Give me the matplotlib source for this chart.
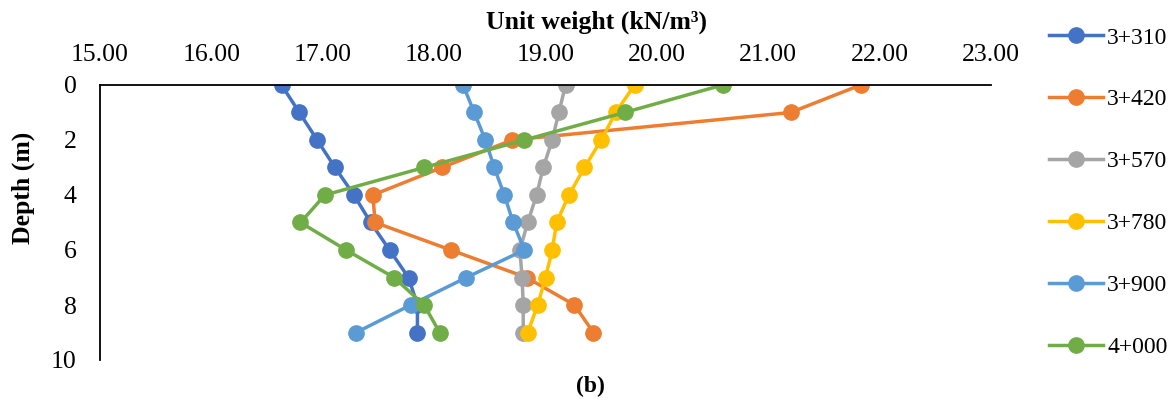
import matplotlib.pyplot as plt

plt.rcParams['font.family'] = ['Liberation Serif', 'DejaVu Serif']

depth = [0, 1, 2, 3, 4, 5, 6, 7, 8, 9]

st_3310 = [16.63, 16.79, 16.95, 17.11, 17.28, 17.43, 17.60, 17.77, 17.85, 17.85]
st_3420 = [21.83, 21.20, 18.70, 18.07, 17.45, 17.47, 18.15, 18.83, 19.26, 19.43]
st_3570 = [19.18, 19.12, 19.06, 18.98, 18.92, 18.84, 18.77, 18.79, 18.80, 18.80]
st_3780 = [19.80, 19.63, 19.50, 19.35, 19.21, 19.10, 19.06, 19.00, 18.93, 18.84]
st_3900 = [18.26, 18.36, 18.46, 18.54, 18.63, 18.71, 18.81, 18.29, 17.79, 17.30]
st_4000 = [20.59, 19.71, 18.81, 17.91, 17.02, 16.80, 17.21, 17.64, 17.91, 18.05]

labels = ['3+310', '3+420', '3+570', '3+780', '3+900', '4+000']
colors = ['#4472C4', '#ED7D31', '#A5A5A5', '#FFC000', '#5B9BD5', '#70AD47']
series = [st_3310, st_3420, st_3570, st_3780, st_3900, st_4000]

W, H = 1176, 408
fig = plt.figure(figsize=(W/100, H/100), dpi=100)
ax = fig.add_axes([100/W, 1-360/H, (991-100)/W, (360-85)/H])

for vals, lab, c in zip(series, labels, colors):
    ax.plot(vals, depth, color=c, lw=2.5, marker='o', ms=11, label=lab)

ax.set_xlim(15, 23)
ax.set_ylim(10, 0)
ax.set_xticks([15, 16, 17, 18, 19, 20, 21, 22, 23])
ax.set_xticklabels(['%.2f' % v for v in ax.get_xticks()])
ax.set_yticks([0, 2, 4, 6, 8, 10])
ax.xaxis.tick_top()
ax.tick_params(axis='both', length=0, labelsize=18.5)
ax.tick_params(axis='x', pad=14)
ax.tick_params(axis='y', pad=17)
for s in ['right', 'bottom']:
    ax.spines[s].set_visible(False)
for s in ['top', 'left']:
    ax.spines[s].set_linewidth(1.3)

fig.text(597/W, 1-22/H, 'Unit weight (kN/m³)', fontsize=18.5, fontweight='bold',
         ha='center', va='center')
fig.text(23/W, 1-188/H, 'Depth (m)', fontsize=18.5, fontweight='bold',
         ha='center', va='center', rotation=90)
fig.text(590/W, 1-386/H, '(b)', fontsize=17, fontweight='bold', ha='center', va='center')

fig.legend(loc='upper left', bbox_to_anchor=(1049/W, 1-27/H), frameon=False,
           fontsize=17, labelspacing=1.71, handlelength=2.29, handletextpad=0.17,
           borderpad=0, borderaxespad=0)

fig.savefig('out.png', dpi=100)
